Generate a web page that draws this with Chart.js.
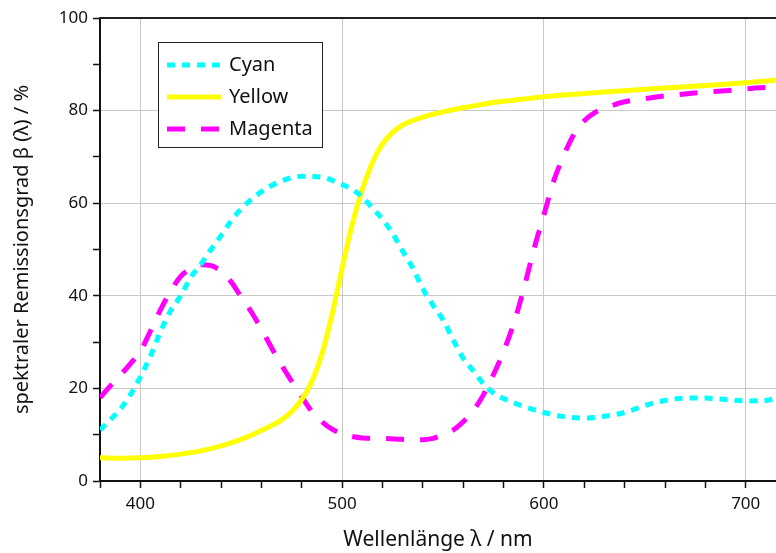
<!DOCTYPE html>
<html>
<head>
<meta charset="utf-8">
<script src="https://cdn.jsdelivr.net/npm/chart.js@4.4.1/dist/chart.umd.min.js"></script>
<style>
  html, body { margin: 0; padding: 0; background: #fff; }
  #wrap { width: 776px; height: 553px; }
</style>
</head>
<body>
<div id="wrap"><canvas id="remission"></canvas></div>
<script>
// Wellenlängen (nm) und Remissionsgrade (%) je Farbe
var cyanNm = [380, 385, 390, 395, 400, 405, 410, 415, 420, 425, 430, 435, 440, 445, 450, 460, 470, 480, 490, 500, 505, 510, 515, 520, 525, 530, 535, 540, 545, 550, 555, 560, 565, 570, 575, 580, 590, 600, 610, 620, 630, 640, 650, 660, 670, 680, 690, 700, 710, 715];
var cyanVal = [11, 13.2, 15.5, 18.6, 22.5, 27, 32.3, 36.8, 40, 44, 46.8, 50, 53, 56.2, 58.8, 62.5, 64.8, 65.8, 65.6, 64, 63, 61.3, 59, 56.5, 53.5, 49.6, 46, 41.5, 38, 34.8, 30.5, 26.5, 23.8, 21, 19, 17.8, 16.1, 14.8, 13.9, 13.6, 14, 14.8, 16.3, 17.4, 17.9, 17.9, 17.6, 17.3, 17.4, 17.9];

var yellowNm = [380, 390, 400, 410, 420, 430, 440, 450, 460, 470, 475, 480, 485, 490, 495, 500, 505, 510, 515, 520, 525, 530, 540, 550, 560, 570, 580, 590, 600, 620, 640, 660, 680, 700, 715];
var yellowVal = [5.0, 4.9, 5.0, 5.3, 5.8, 6.5, 7.6, 9.0, 10.9, 13.2, 15, 17.6, 21.5, 27.5, 36, 46, 55.5, 63, 68.8, 72.8, 75.3, 76.9, 78.6, 79.7, 80.6, 81.4, 82.0, 82.5, 83.0, 83.7, 84.3, 84.9, 85.4, 86.0, 86.6];

var magentaNm = [380, 385, 390, 395, 400, 405, 410, 415, 420, 425, 430, 435, 440, 445, 450, 455, 460, 465, 470, 475, 480, 485, 490, 495, 500, 505, 510, 520, 530, 540, 545, 550, 555, 560, 565, 570, 575, 580, 585, 590, 595, 600, 605, 610, 615, 620, 625, 630, 640, 650, 660, 670, 680, 690, 700, 715];
var magentaVal = [18, 20.5, 22.8, 25.3, 28, 32.4, 37, 41, 44.2, 45.8, 46.7, 46.5, 45.3, 43, 39.7, 36.5, 32.8, 28.8, 25, 21.5, 18.2, 15, 12.8, 11.2, 10.2, 9.6, 9.3, 9.2, 9.0, 8.9, 9.2, 10, 11, 12.8, 15.2, 18.6, 23, 28, 34, 41.5, 50, 57.5, 65, 70.5, 75, 77.8, 79.5, 80.5, 81.9, 82.6, 83.2, 83.6, 84, 84.3, 84.7, 85.1];

var seriesNames = ['Cyan', 'Yellow', 'Magenta'];
var xTickValues = [380, 400, 420, 440, 460, 480, 500, 520, 540, 560, 580, 600, 620, 640, 660, 680, 700];
var yTickValues = [0, 10, 20, 30, 40, 50, 60, 70, 80, 90, 100];

var fontFam = "'Noto Sans', 'DejaVu Sans', sans-serif";

function toPoints(xs, ys) {
    var pts = [];
    for (var i = 0; i < xs.length; i++) {
        pts.push({ x: xs[i], y: ys[i] });
    }
    return pts;
}

// Rahmen oben + Legende im Diagramm
var framePlugin = {
    id: 'frameAndLegend',
    afterDraw: function (chart) {
        var ctx = chart.ctx;
        var area = chart.chartArea;
        ctx.save();
        ctx.strokeStyle = '#222';
        ctx.lineWidth = 2;
        ctx.beginPath();
        ctx.moveTo(area.left - 1, area.top);
        ctx.lineTo(area.right, area.top);
        ctx.stroke();

        // Legende
        var bx = 158.5, by = 42.5, bw = 164, bh = 105;
        ctx.fillStyle = '#fff';
        ctx.fillRect(bx, by, bw, bh);
        ctx.strokeStyle = '#222';
        ctx.lineWidth = 1;
        ctx.strokeRect(bx, by, bw, bh);

        ctx.font = '20px ' + fontFam;
        ctx.textBaseline = 'middle';
        chart.data.datasets.forEach(function (ds, i) {
            var yy = 65 + i * 32;
            ctx.strokeStyle = ds.borderColor;
            ctx.lineWidth = ds.borderWidth;
            ctx.setLineDash(ds.borderDash || []);
            ctx.beginPath();
            ctx.moveTo(167, yy);
            ctx.lineTo(221, yy);
            ctx.stroke();
            ctx.setLineDash([]);
            ctx.fillStyle = '#111';
            ctx.fillText(ds.label, 229, yy);
        });
        ctx.restore();
    }
};

var remissionChart = new Chart(document.getElementById('remission').getContext('2d'), {
    type: 'line',
    data: {
        datasets: [
            {
                label: seriesNames[0],
                data: toPoints(cyanNm, cyanVal),
                borderColor: '#00ffff',
                borderWidth: 5,
                borderDash: [8, 7],
                pointRadius: 0,
                cubicInterpolationMode: 'monotone',
                fill: false
            },
            {
                label: seriesNames[1],
                data: toPoints(yellowNm, yellowVal),
                borderColor: '#ffff00',
                borderWidth: 5,
                pointRadius: 0,
                cubicInterpolationMode: 'monotone',
                fill: false
            },
            {
                label: seriesNames[2],
                data: toPoints(magentaNm, magentaVal),
                borderColor: '#ff00ff',
                borderWidth: 5,
                borderDash: [18, 16],
                pointRadius: 0,
                cubicInterpolationMode: 'monotone',
                fill: false
            }
        ]
    },
    options: {
        responsive: true,
        maintainAspectRatio: false,
        animation: false,
        layout: { padding: { top: 18, right: 0, left: 0, bottom: 0 } },
        plugins: {
            legend: { display: false },
            tooltip: { enabled: false }
        },
        scales: {
            x: {
                type: 'linear',
                min: 380,
                max: 715,
                afterBuildTicks: function (axis) {
                    axis.ticks = xTickValues.map(function (v) { return { value: v }; });
                },
                afterFit: function (axis) { axis.height = 72; },
                grid: {
                    color: function (c) {
                        var v = c.tick ? c.tick.value : 0;
                        return (v % 100 === 0) ? '#c8c8c8' : 'rgba(0,0,0,0)';
                    },
                    lineWidth: 1,
                    drawTicks: true,
                    tickLength: 7,
                    tickColor: '#111',
                    tickWidth: 1.5
                },
                border: { color: '#111', width: 2 },
                ticks: {
                    color: '#111',
                    padding: 6,
                    maxRotation: 0,
                    autoSkip: false,
                    font: { family: fontFam, size: 17 },
                    callback: function (v) { return v % 100 === 0 ? String(v) : ''; }
                },
                title: {
                    display: true,
                    text: 'Wellenlänge λ / nm',
                    color: '#111',
                    padding: { top: 6, bottom: 0 },
                    font: { family: fontFam, size: 21 }
                }
            },
            y: {
                min: 0,
                max: 100,
                afterBuildTicks: function (axis) {
                    axis.ticks = yTickValues.map(function (v) { return { value: v }; });
                },
                afterFit: function (axis) { axis.width = 100; },
                grid: {
                    color: function (c) {
                        var v = c.tick ? c.tick.value : 0;
                        return (v % 20 === 0 && v !== 0 && v !== 100) ? '#c8c8c8' : 'rgba(0,0,0,0)';
                    },
                    lineWidth: 1,
                    drawTicks: true,
                    tickLength: 7,
                    tickColor: '#111',
                    tickWidth: 1.5
                },
                border: { color: '#111', width: 2 },
                ticks: {
                    color: '#111',
                    padding: 5,
                    autoSkip: false,
                    font: { family: fontFam, size: 17 },
                    callback: function (v) { return v % 20 === 0 ? String(v) : ''; }
                },
                title: {
                    display: true,
                    text: 'spektraler Remissionsgrad β (λ) / %',
                    color: '#111',
                    padding: { top: 10, bottom: 0 },
                    font: { family: fontFam, size: 20 }
                }
            }
        }
    },
    plugins: [framePlugin]
});
</script>
</body>
</html>
